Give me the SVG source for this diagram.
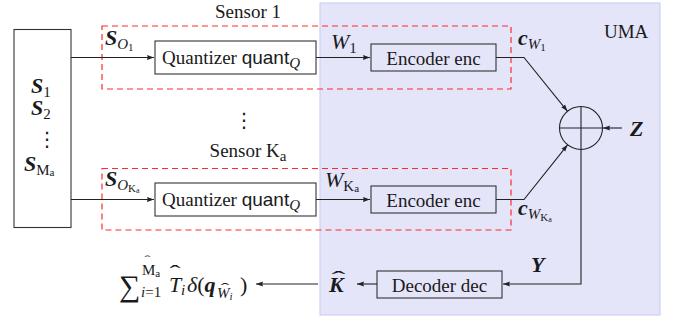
<svg xmlns="http://www.w3.org/2000/svg" width="680" height="322" viewBox="0 0 680 322">
<style>
text{font-family:"Liberation Serif","DejaVu Serif",serif;fill:#1a1a1a}
.t{font-size:19px}
.m{font-size:22px;font-style:italic}
.b{font-weight:bold;font-style:italic}
.s{font-size:15px}
.ss{font-size:11px}
.rm{font-style:normal}
.it{font-style:italic}
.sans{font-family:"Liberation Sans","DejaVu Sans",sans-serif}
.box{fill:none;stroke:#333;stroke-width:1.1}
.dash{fill:none;stroke:#ff2a2a;stroke-width:1.2;stroke-dasharray:6 4}
.ln{fill:none;stroke:#222;stroke-width:1.1}
.dots{font-family:"DejaVu Sans",sans-serif;font-size:20px}
.hat{font-style:normal;text-anchor:middle}
.sum{font-size:30px;font-style:normal}
</style>
<defs>
<marker id="ah" markerWidth="8" markerHeight="6" refX="7" refY="3" orient="auto" markerUnits="userSpaceOnUse">
<path d="M0,0.6 L7,3 L0,5.4 Q1.5,3 0,0.6 Z" fill="#222"/>
</marker>
</defs>
<g id="uma">
<rect x="320" y="3" width="340" height="312" fill="#e5e5fa" stroke="#c9c9f2" stroke-width="1"/>
<text class="t" x="604" y="38">UMA</text>
</g>
<g id="sources">
<rect class="box" x="14" y="29.5" width="57" height="198"/>
<text class="m" x="31" y="93"><tspan class="b">S</tspan><tspan class="s rm" dy="4">1</tspan></text>
<text class="m" x="31" y="115"><tspan class="b">S</tspan><tspan class="s rm" dy="4">2</tspan></text>
<text class="dots" x="37" y="146">⋮</text>
<text class="m" x="24" y="171"><tspan class="b">S</tspan><tspan class="s rm" dy="4">M</tspan><tspan class="ss rm" dy="1">a</tspan></text>
</g>
<g id="sensor1">
<rect class="dash" x="102" y="26" width="409" height="63"/>
<text class="t" x="248" y="18" text-anchor="middle">Sensor 1</text>
<text class="m" x="105" y="45"><tspan class="b">S</tspan><tspan class="s" dy="4">O</tspan><tspan class="ss rm" dy="2">1</tspan></text>
</g>
<g id="quant1">
<rect class="box" x="155" y="41" width="161" height="33"/>
<text class="t" x="162" y="64">Quantizer <tspan class="sans">quant</tspan><tspan class="s it" dy="4">Q</tspan></text>
</g>
<g id="enc1">
<rect class="box" x="371" y="44" width="125" height="27"/>
<text class="t" x="433.5" y="65" text-anchor="middle">Encoder enc</text>
</g>
<text class="dots" x="234" y="127">⋮</text>
<g id="sensorK">
<rect class="dash" x="102" y="168.5" width="409" height="61.5"/>
<text class="t" x="248" y="157" text-anchor="middle">Sensor K<tspan class="s" dy="4">a</tspan></text>
<text class="m" x="105" y="186"><tspan class="b">S</tspan><tspan class="s" dy="4">O</tspan><tspan class="ss rm" dy="2">K</tspan><tspan class="rm" font-size="8" dy="1">a</tspan></text>
</g>
<g id="quantK">
<rect class="box" x="155" y="183" width="161" height="33"/>
<text class="t" x="162" y="206">Quantizer <tspan class="sans">quant</tspan><tspan class="s it" dy="4">Q</tspan></text>
</g>
<g id="encK">
<rect class="box" x="371" y="186" width="125" height="27"/>
<text class="t" x="433.5" y="207" text-anchor="middle">Encoder enc</text>
</g>
<g id="adder">
<circle cx="581" cy="128" r="21.5" fill="none" stroke="#222" stroke-width="1.1"/>
<path class="ln" d="M559.5,128 H602.5 M581,106.5 V149.5"/>
</g>
<g id="decoder">
<rect class="box" x="377" y="271" width="125" height="27"/>
<text class="t" x="439.5" y="292" text-anchor="middle">Decoder dec</text>
</g>
<g id="labels">
<text class="m" x="331" y="49">W<tspan class="s rm" dy="4">1</tspan></text>
<text class="m" x="325" y="187">W<tspan class="s rm" dy="4">K</tspan><tspan class="ss rm" dy="1">a</tspan></text>
<text class="m" x="518" y="45"><tspan class="b">c</tspan><tspan class="s" dy="4">W</tspan><tspan class="ss rm" dy="2">1</tspan></text>
<text class="m" x="518" y="215"><tspan class="b">c</tspan><tspan class="s" dy="4">W</tspan><tspan class="ss rm" dy="2">K</tspan><tspan class="rm" font-size="8" dy="1">a</tspan></text>
<text class="m b" x="630" y="136">Z</text>
<text class="m b" x="531" y="272">Y</text>
<text class="m b" x="329" y="292">K</text>
<text class="m hat" x="338.5" y="286" transform="translate(338.5,0) scale(1.9,1) translate(-338.5,0)">ˆ</text>
</g>
<g id="output">
<text class="sum" x="119" y="296">∑</text>
<text class="s rm" x="142" y="275">M<tspan class="ss" dy="2">a</tspan></text>
<text class="ss hat" x="147.5" y="263" transform="translate(147.5,0) scale(1.6,1) translate(-147.5,0)">ˆ</text>
<text class="s rm" x="141" y="297"><tspan class="it">i</tspan>=1</text>
<text class="m" x="169" y="291.5">T</text>
<text class="m hat" x="175" y="280" transform="translate(175,0) scale(1.5,1) translate(-175,0)">ˆ</text>
<text class="s it" x="181" y="295">i</text>
<text class="m" x="187" y="291.5">δ<tspan class="rm">(</tspan><tspan class="b">q</tspan></text>
<text class="s it" x="217" y="297.5">W<tspan class="ss" dy="2">i</tspan></text>
<text class="s hat" x="225" y="293" transform="translate(225,0) scale(1.7,1) translate(-225,0)">ˆ</text>
<text class="m rm" x="240" y="291.5">)</text>
</g>
<g id="connectors">
<path class="ln" d="M71,57.5 H154" marker-end="url(#ah)"/>
<path class="ln" d="M71,199.5 H154" marker-end="url(#ah)"/>
<path class="ln" d="M316,57.5 H370" marker-end="url(#ah)"/>
<path class="ln" d="M316,199.5 H370" marker-end="url(#ah)"/>
<path class="ln" d="M496,57.5 H524 L567.5,111.3" marker-end="url(#ah)"/>
<path class="ln" d="M496,199.5 H524 L567.6,144.8" marker-end="url(#ah)"/>
<path class="ln" d="M622,128 H603" marker-end="url(#ah)"/>
<path class="ln" d="M581,149.5 V284 H503" marker-end="url(#ah)"/>
<path class="ln" d="M377,284 H357" marker-end="url(#ah)"/>
<path class="ln" d="M318,284 H256" marker-end="url(#ah)"/>
</g>
</svg>
